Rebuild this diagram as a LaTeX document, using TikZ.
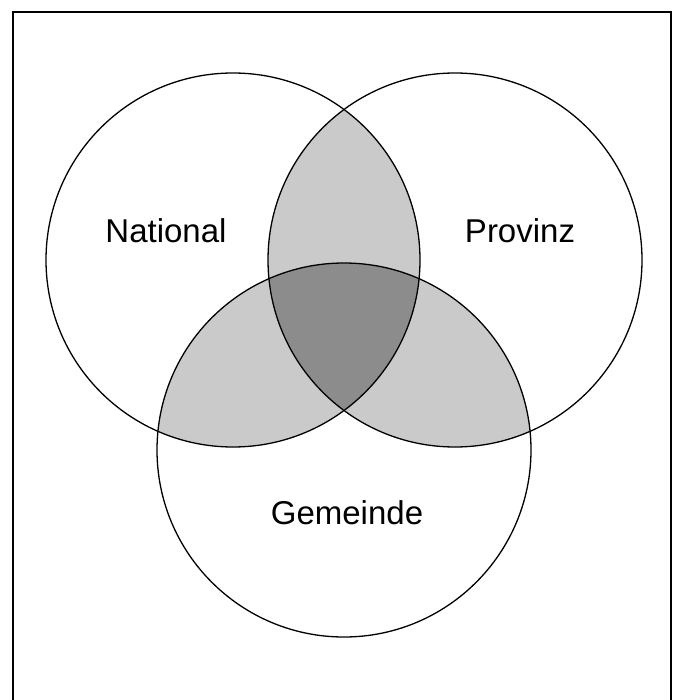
\documentclass[tikz,border=0pt]{standalone}
\usepackage{fontspec}
\setmainfont{Liberation Sans}
\definecolor{lightg}{RGB}{202,202,202}
\definecolor{darkg}{RGB}{140,140,140}
\tikzset{
  ring/.style={draw=black, line width=1.3pt},
  lbl/.style={anchor=base, inner sep=0pt, font=\fontsize{33}{40}\selectfont},
}
\begin{document}
\begin{tikzpicture}[x=1pt,y=-1pt]
\useasboundingbox (0,0) rectangle (672,700);
\fill[white] (0,0) rectangle (672,700);
\def\rr{187}
\coordinate (cN) at (233,260);
\coordinate (cP) at (455,260);
\coordinate (cG) at (344,450);
% pairwise overlaps
\begin{scope}
  \clip (cN) circle (\rr);
  \fill[lightg] (cP) circle (\rr);
  \fill[lightg] (cG) circle (\rr);
\end{scope}
\begin{scope}
  \clip (cP) circle (\rr);
  \fill[lightg] (cG) circle (\rr);
\end{scope}
\begin{scope}
  \clip (cN) circle (\rr);
  \clip (cP) circle (\rr);
  \fill[darkg] (cG) circle (\rr);
\end{scope}
\draw[ring] (cN) circle (\rr);
\draw[ring] (cP) circle (\rr);
\draw[ring] (cG) circle (\rr);
% frame
\draw[line width=1.5pt] (13,705) -- (13,12) -- (671,12) -- (671,705);
\node[lbl] (national) at (166,243) {National};
\node[lbl] (provinz) at (520,243) {Provinz};
\node[lbl] (gemeinde) at (347,524) {Gemeinde};
\end{tikzpicture}
\end{document}
